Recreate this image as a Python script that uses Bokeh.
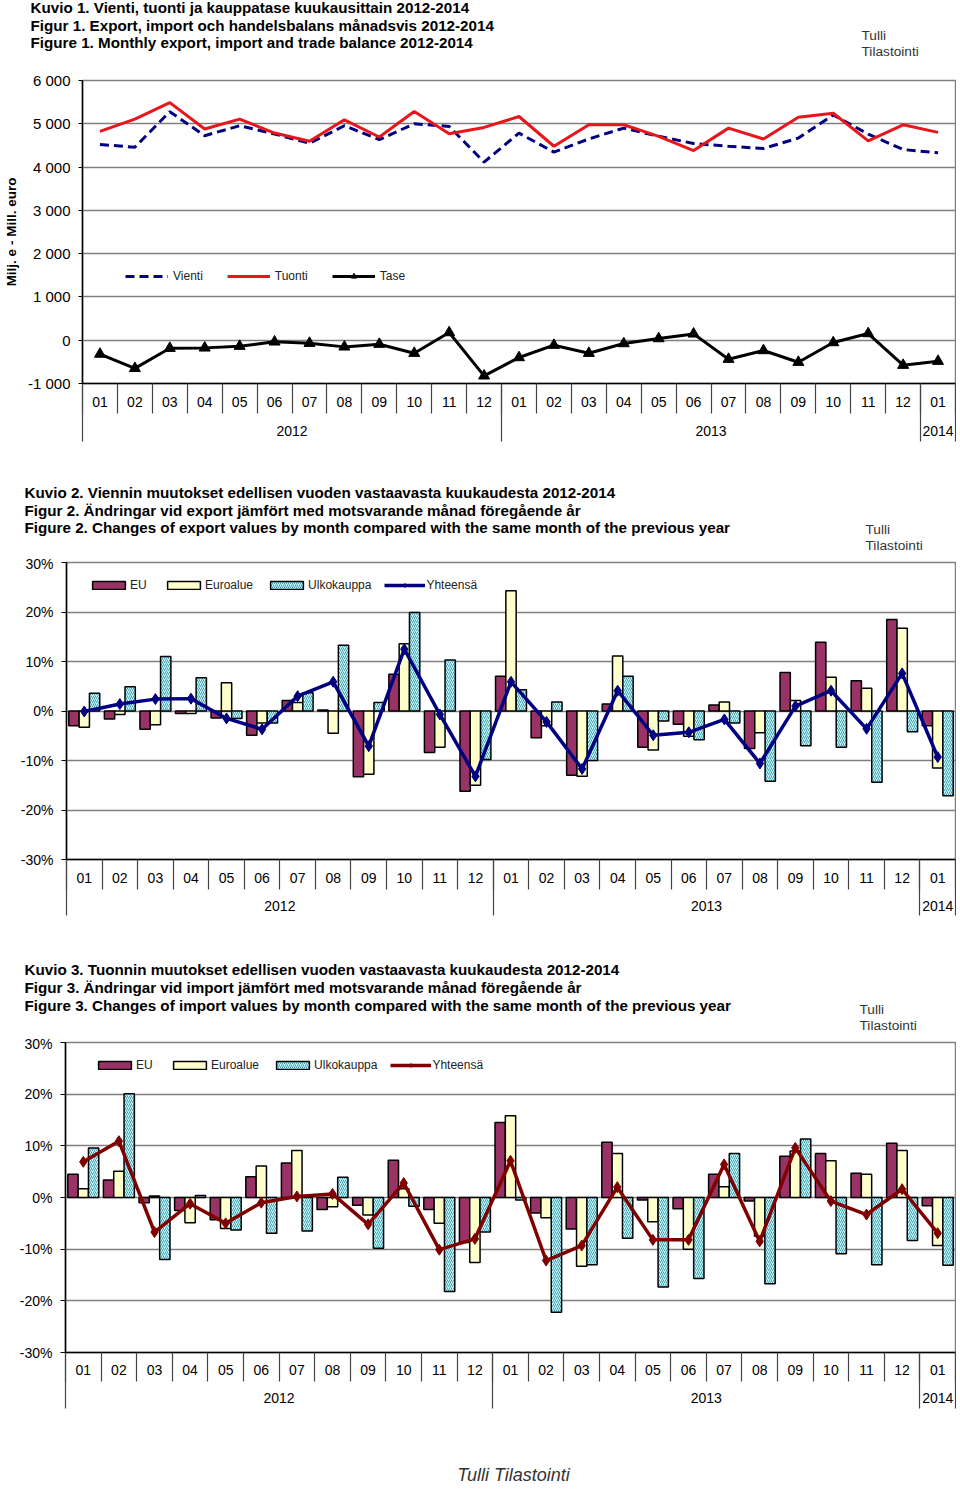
import numpy as np
from bokeh.plotting import figure
from bokeh.models import (Range1d, ColumnDataSource, FixedTicker, LinearAxis,
                          Legend, LegendItem, PrintfTickFormatter)
from bokeh.transform import dodge
from bokeh.core.properties import value
from bokeh.embed import file_html
from bokeh.resources import INLINE

FONT = "Liberation Sans"
W = 956

# ---------------- data ----------------
months = ["01", "02", "03", "04", "05", "06", "07", "08", "09", "10", "11", "12",
          "01", "02", "03", "04", "05", "06", "07", "08", "09", "10", "11", "12", "01"]
month_year = ["2012"] * 12 + ["2013"] * 12 + ["2014"]
years = ["2012", "2013", "2014"]

# Figure 1 (Milj. e)
vienti = [4520, 4460, 5280, 4725, 4955, 4765, 4550, 4955, 4635, 5000, 4940, 4115,
          4785, 4345, 4650, 4900, 4710, 4545, 4480, 4430, 4670, 5205, 4760, 4405, 4330]
tuonti = [4824, 5107, 5489, 4878, 5107, 4786, 4595, 5092, 4695, 5282, 4771, 4916,
          5168, 4481, 4977, 4977, 4710, 4382, 4900, 4649, 5153, 5244, 4605, 4977, 4802]
tase = [-320, -650, -185, -177, -138, -38, -69, -154, -92, -300, 177, -823,
        -400, -115, -300, -77, 38, 146, -438, -238, -508, -54, 154, -577, -485]

# Figure 2 (export change, %)
eu2 = [-3.0, -1.6, -3.7, -0.5, -1.4, -4.9, 2.1, 0.2, -13.3, 7.4, -8.4, -16.2,
       7.0, -5.4, -13.0, 1.4, -7.3, -2.7, 1.2, -7.6, 7.8, 13.9, 6.1, 18.5, -3.0]
euro2 = [-3.3, -0.7, -2.8, -0.5, 5.7, -2.4, 1.7, -4.5, -12.8, 13.6, -7.3, -15.0,
         24.3, -3.0, -13.2, 11.1, -7.9, -5.1, 1.8, -4.4, 2.1, 6.8, 4.6, 16.7, -11.5]
ulko2 = [3.6, 4.9, 11.0, 6.7, -1.5, -2.4, 3.7, 13.3, 1.7, 19.9, 10.3, -9.8,
         4.3, 1.8, -10.0, 7.0, -2.0, -5.8, -2.4, -14.2, -7.0, -7.3, -14.4, -4.2, -17.1]
tot2 = [-0.1, 1.4, 2.4, 2.5, -1.5, -3.7, 3.0, 5.9, -7.1, 12.5, -0.7, -13.2,
        5.9, -2.2, -11.7, 4.1, -4.9, -4.3, -1.7, -10.6, 1.0, 4.1, -3.6, 7.6, -9.3]

# Figure 3 (import change, %)
eu3 = [4.5, 3.4, -1.0, -2.5, -4.3, 4.0, 6.7, -2.3, -1.5, 7.2, -2.3, -8.7,
       14.5, -3.0, -6.1, 10.7, -0.5, -2.2, 4.5, -0.7, 8.0, 8.5, 4.7, 10.5, -1.6]
euro3 = [1.7, 5.1, 0.3, -4.9, -6.0, 6.1, 9.1, -1.8, -3.4, 1.7, -5.0, -12.6,
         15.8, -3.9, -13.3, 8.5, -4.7, -10.0, 2.1, -7.5, 9.0, 7.1, 4.5, 9.1, -9.3]
ulko3 = [9.6, 20.1, -12.0, 0.4, -6.3, -6.9, -6.5, 3.9, -9.8, -1.7, -18.2, -6.7,
         -0.5, -22.2, -13.0, -7.9, -17.3, -15.7, 8.5, -16.7, 11.3, -10.9, -13.0, -8.3, -13.1]
tot3 = [6.9, 10.9, -6.7, -1.2, -5.0, -1.0, 0.2, 0.7, -5.2, 2.8, -10.1, -8.0,
        7.1, -12.2, -9.3, 2.0, -8.2, -8.2, 6.4, -8.5, 9.6, -0.7, -3.3, 1.6, -6.9]

titles1 = ["Kuvio 1. Vienti, tuonti ja kauppatase kuukausittain 2012-2014",
           "Figur 1. Export, import och handelsbalans månadsvis 2012-2014",
           "Figure 1. Monthly export, import and trade balance 2012-2014"]
titles2 = ["Kuvio 2. Viennin muutokset edellisen vuoden vastaavasta kuukaudesta 2012-2014",
           "Figur 2. Ändringar vid export jämfört med motsvarande månad föregående år",
           "Figure 2. Changes of export values by month compared with the same month of the previous year"]
titles3 = ["Kuvio 3. Tuonnin muutokset edellisen vuoden vastaavasta kuukaudesta 2012-2014",
           "Figur 3. Ändringar vid import jämfört med motsvarande månad föregående år",
           "Figure 3. Changes of import values by month compared with the same month of the previous year"]
source_lines = ["Tulli", "Tilastointi"]
footer = "Tulli Tilastointi"

# ---------------- helpers ----------------
xs = list(range(1, len(months) + 1))
bounds = [i + 0.5 for i in range(0, len(months) + 1)]
year_pos = []
year_bounds = [0.5]
for y in years:
    idx = [i + 1 for i, yy in enumerate(month_year) if yy == y]
    year_pos.append((idx[0] + idx[-1]) / 2)
    year_bounds.append(idx[-1] + 0.5)

LH = 12  # measured tick-label box height for 14px labels


def text_fig(h, items):
    p = figure(width=W, height=h, x_range=Range1d(0, W), y_range=Range1d(h, 0),
               x_axis_location=None, y_axis_location=None, toolbar_location=None,
               min_border=0, min_border_left=0, min_border_right=0,
               min_border_top=0, min_border_bottom=0,
               output_backend="svg", outline_line_color=None)
    p.grid.visible = False
    for (x, y, txt, size, style, color, align) in items:
        p.text(x=[x], y=[y], text=[txt], text_font=value(FONT), text_font_size=size,
               text_font_style=style, text_color=color, text_baseline="middle",
               text_align=align)
    return p


def title_items(lines, x0, ys, tulli_x, tulli_ys):
    items = []
    for t, y in zip(lines, ys):
        items.append((x0, y, t, "15.2px", "bold", "black", "left"))
    for t, y in zip(source_lines, tulli_ys):
        items.append((tulli_x, y, t, "13.7px", "normal", "#333333", "left"))
    return items


def chart_fig(h, y0, y1, yticks, mb_left, mb_top, mb_bottom, sA, sB, c_out):
    p = figure(width=W, height=h, x_range=Range1d(0.5, 25.5), y_range=Range1d(y0, y1),
               toolbar_location=None, output_backend="svg", x_axis_location=None,
               min_border_left=mb_left, min_border_right=1, min_border_top=mb_top,
               min_border_bottom=mb_bottom, outline_line_color="#808080",
               outline_line_width=1.5)
    p.xgrid.visible = False
    ya = p.yaxis[0]
    ya.ticker = FixedTicker(ticks=yticks)
    ya.major_tick_out = 4
    ya.major_tick_in = 0
    ya.major_label_standoff = 8
    ya.axis_line_width = 1.5
    ya.axis_line_color = "black"
    ya.major_tick_line_color = "black"
    ya.major_label_text_font = FONT
    ya.major_label_text_font_size = "14px"
    ya.major_label_text_color = "black"
    p.ygrid.grid_line_color = "#808080"
    p.ygrid.grid_line_width = 1.5

    hA = sA + LH
    hB = 4 + sB + LH
    # month labels
    axA = LinearAxis(ticker=FixedTicker(ticks=xs, minor_ticks=[]),
                     major_label_overrides={i: m for i, m in zip(xs, months)},
                     major_tick_out=0, major_tick_in=0, minor_tick_out=0,
                     minor_tick_in=0, major_label_standoff=sA,
                     axis_line_color="black", axis_line_width=1.5,
                     major_label_text_font=FONT, major_label_text_font_size="14px",
                     major_label_text_color="black")
    p.add_layout(axA, "below")
    # year labels + month separators
    axB = LinearAxis(ticker=FixedTicker(ticks=year_pos, minor_ticks=bounds),
                     major_label_overrides={float(v): y for v, y in zip(year_pos, years)},
                     major_tick_out=0, major_tick_in=0, minor_tick_in=hA + 1,
                     minor_tick_out=4, minor_tick_line_color="#444444",
                     minor_tick_line_width=1.2, major_label_standoff=sB,
                     axis_line_color=None, major_label_text_font=FONT,
                     major_label_text_font_size="14px", major_label_text_color="black")
    p.add_layout(axB, "below")
    # year separators
    axC = LinearAxis(ticker=FixedTicker(ticks=year_bounds, minor_ticks=[]),
                     major_label_overrides={float(v): "" for v in year_bounds},
                     major_tick_out=c_out, major_tick_in=hA + hB + 1,
                     major_tick_line_color="#444444", major_tick_line_width=1.2,
                     minor_tick_in=0, minor_tick_out=0, major_label_standoff=0,
                     axis_line_color=None, major_label_text_font_size="0px")
    p.add_layout(axC, "below")
    return p


# ---------------- figure 1 ----------------
t1 = text_fig(65, title_items(titles1, 30, [7, 24.5, 42], 861, [35, 51]))

f1 = chart_fig(382, -1000, 6000, list(range(-1000, 7000, 1000)), 81, 15, 64, 13, 12, 3)
f1.yaxis[0].major_label_overrides = {v: (f"{v:,}".replace(",", " ")) for v in range(-1000, 7000, 1000)}
f1.yaxis[0].major_label_text_font_size = "15px"
f1.yaxis[0].axis_label = "Milj. e - Mill. euro"
f1.yaxis[0].axis_label_text_font = FONT
f1.yaxis[0].axis_label_text_font_size = "13.5px"
f1.yaxis[0].axis_label_text_font_style = "bold"
f1.yaxis[0].axis_label_text_color = "black"
f1.yaxis[0].axis_label_standoff = 6

src1 = ColumnDataSource(dict(x=xs, vienti=vienti, tuonti=tuonti, tase=tase))
rv = f1.line("x", "vienti", source=src1, line_color="#000080", line_width=3,
             line_dash="9 5")
rt = f1.line("x", "tuonti", source=src1, line_color="#E8161B", line_width=3)
rb = f1.line("x", "tase", source=src1, line_color="black", line_width=3)
rbs = f1.scatter("x", "tase", source=src1, marker="triangle", size=11, color="black")
leg1 = Legend(items=[LegendItem(label="Vienti", renderers=[rv]),
                     LegendItem(label="Tuonti", renderers=[rt]),
                     LegendItem(label="Tase", renderers=[rb, rbs])],
              location=(43, 100), orientation="horizontal", padding=0, margin=0,
              spacing=24, glyph_width=43, glyph_height=14, label_height=14,
              label_standoff=5, background_fill_alpha=0, border_line_color=None,
              label_text_font=FONT, label_text_font_size="12px", label_text_color="#222222")
f1.add_layout(leg1)


# ---------------- bar charts ----------------
def bar_chart(h, mb_left, mb_top, mb_bottom, eu, euro, ulko, tot, line_color, leg_loc,
              sA, sB, c_out):
    p = chart_fig(h, -30, 30, list(range(-30, 40, 10)), mb_left, mb_top, mb_bottom,
                  sA, sB, c_out)
    p.yaxis[0].formatter = PrintfTickFormatter(format="%d%%")
    p.yaxis[0].major_tick_out = 5
    src = ColumnDataSource(dict(x=xs, eu=eu, euro=euro, ulko=ulko, tot=tot))
    r_eu = p.vbar(x=dodge("x", -0.29, range=p.x_range), top="eu", width=0.29, source=src,
                  fill_color="#993366", line_color="black", line_width=1.5)
    r_euro = p.vbar(x="x", top="euro", width=0.29, source=src,
                    fill_color="#FFFFCC", line_color="black", line_width=1.5)
    r_ulko = p.vbar(x=dodge("x", 0.29, range=p.x_range), top="ulko", width=0.29, source=src,
                    fill_color="#CCFFFF", hatch_pattern="/", hatch_color="#3C9DBA",
                    hatch_scale=4, hatch_weight=1, line_color="black", line_width=1.5)
    r_l = p.line("x", "tot", source=src, line_color=line_color, line_width=3.5)
    r_s = p.scatter("x", "tot", source=src, marker="diamond", size=11, color=line_color)
    leg = Legend(items=[LegendItem(label="EU", renderers=[r_eu]),
                        LegendItem(label="Euroalue", renderers=[r_euro]),
                        LegendItem(label="Ulkokauppa", renderers=[r_ulko]),
                        LegendItem(label="Yhteensä", renderers=[r_l, r_s])],
                 location=leg_loc, orientation="horizontal", padding=0, margin=0,
                 spacing=13, glyph_width=41, glyph_height=10, label_height=14,
                 label_standoff=1, background_fill_alpha=0, border_line_color=None,
                 label_text_font=FONT, label_text_font_size="12px",
                 label_text_color="#222222")
    p.add_layout(leg)
    return p


t2 = text_fig(108, title_items(titles2, 24, [45, 63, 80], 865, [82, 98]))
f2 = bar_chart(369, 66, 7, 65, eu2, euro2, ulko2, tot2, "#000080", (22, 267), 13, 11, 2)

t3 = text_fig(111, title_items(titles3, 24, [45, 63, 81], 859, [85, 101]))
f3 = bar_chart(384, 65, 7, 67, eu3, euro3, ulko3, tot3, "#800000", (29, 280), 12, 11, 3)

foot = text_fig(66, [(513, 55, footer, "18px", "italic", "#333333", "center")])

open("out.html", "w").write(file_html([t1, f1, t2, f2, t3, f3, foot], INLINE))
